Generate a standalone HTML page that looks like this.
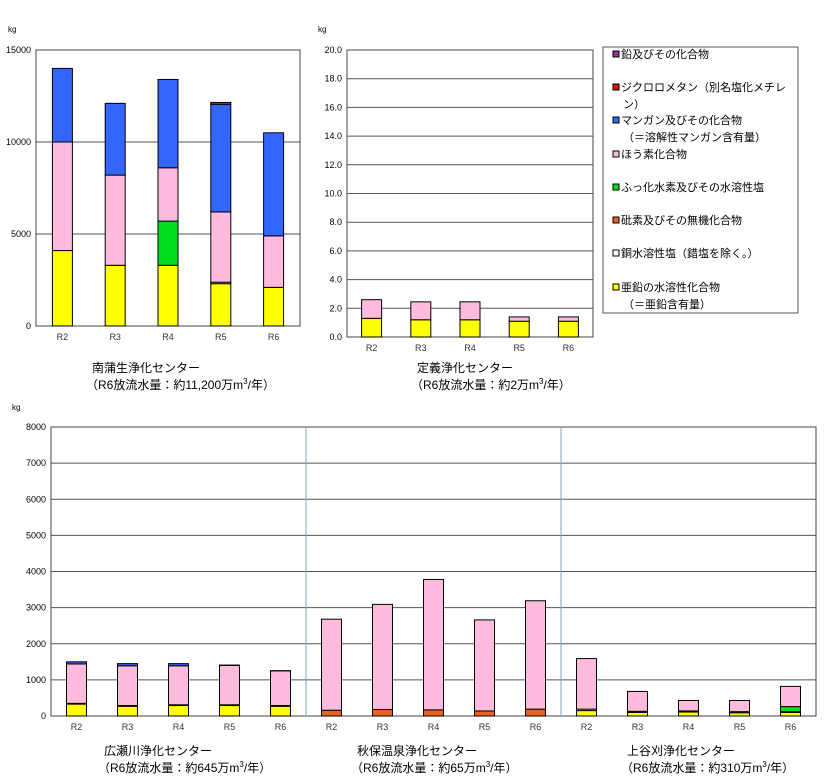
<!DOCTYPE html>
<html><head><meta charset="utf-8">
<style>
body{margin:0;background:#fff;width:830px;height:780px;overflow:hidden;font-family:"Liberation Sans","Noto Sans CJK JP",sans-serif;}
svg{position:absolute;left:0;top:0}
text{font-family:"Liberation Sans","Noto Sans CJK JP",sans-serif}
</style></head>
<body>
<svg id="chart" width="830" height="780" viewBox="0 0 830 780"></svg>
<script>
// series order (bottom to top)
const seriesNames=["亜鉛の水溶性化合物","銅水溶性塩","砒素及びその無機化合物","ふっ化水素及びその水溶性塩","ほう素化合物","マンガン及びその化合物","ジクロロメタン","鉛及びその化合物"];
const seriesColors=["#ffff00","#ffffff","#e8641e","#00e020","#ffbbdd","#3366ff","#dd1111","#993399"];
const years=["R2","R3","R4","R5","R6"];
// Minami-Gamo
const mg_zinc=[4100,3300,3300,2300,2100];
const mg_copper=[0,0,0,80,0];
const mg_arsenic=[0,0,0,0,0];
const mg_fluorine=[0,0,2400,0,0];
const mg_boron=[5900,4900,2900,3820,2800];
const mg_manganese=[4000,3900,4800,5850,5600];
const mg_dcm=[0,0,0,0,0];
const mg_lead=[0,0,0,100,0];
// Jogi
const jg_zinc=[1.3,1.2,1.2,1.1,1.1];
const jg_boron=[1.3,1.25,1.25,0.3,0.3];
// Hirosegawa
const hr_zinc=[330,270,290,290,270];
const hr_copper=[20,20,20,20,20];
const hr_boron=[1090,1100,1080,1090,960];
const hr_manganese=[60,60,60,10,5];
// Akiu Onsen
const ak_arsenic=[160,180,170,140,190];
const ak_boron=[2520,2910,3610,2520,3000];
// Kamiyagari
const ky_zinc=[150,100,110,90,100];
const ky_copper=[40,30,30,30,20];
const ky_fluorine=[0,0,0,0,140];
const ky_boron=[1400,550,290,310,560];
const ticks1=[0,5000,10000,15000];
const ticks2=[0,2,4,6,8,10,12,14,16,18,20];
const ticks3=[0,1000,2000,3000,4000,5000,6000,7000,8000];

const NS="http://www.w3.org/2000/svg";
const svg=document.getElementById('chart');
function mk(tag,attrs,parent){const e=document.createElementNS(NS,tag);for(const k in attrs)e.setAttribute(k,attrs[k]);(parent||svg).appendChild(e);return e;}
function txt(x,y,s,size,anchor,parent){const t=mk('text',{x:x,y:y,'font-size':size,'text-anchor':anchor||'start',fill:'#000'},parent);t.textContent=s;return t;}

function drawPlot(name,x0,x1,y0,y1,max,ticks,fmt,groups){
  const g=mk('g',{});
  
  
  const ys=v=>y1-(v/max)*(y1-y0);
  ticks.forEach(t=>{
    if(t>0&&t<max){const l=mk('line',{x1:x0,x2:x1,y1:ys(t),y2:ys(t),stroke:'#555','stroke-width':1},g);
      
      }
    const lb=txt(x0-5,ys(t)+3,fmt(t),9,'end',g);
    
    
  });
  const b=mk('rect',{x:x0,y:y0,width:x1-x0,height:y1-y0,fill:'none',stroke:'#444','stroke-width':1},g);
  
  
  const ncat=groups.reduce((a,gr)=>a+gr.length,0);
  const cw=(x1-x0)/ncat;
  let ci=0;
  groups.forEach((gr,gi)=>{
    if(gi>0){const d=mk('line',{x1:x0+ci*cw,x2:x0+ci*cw,y1:y0,y2:y1,stroke:'#7aa6bf','stroke-width':1},g);
      
      }
    gr.forEach(cat=>{
      const cx=x0+(ci+0.5)*cw;
      let acc=0;
      cat.vals.forEach((v,si)=>{
        if(!v)return;
        const r=mk('rect',{x:cx-10,y:ys(acc+v),width:20,height:ys(acc)-ys(acc+v),fill:seriesColors[si],stroke:'#000','stroke-width':1},g);
        
        
        acc+=v;
      });
      const l=txt(cx,y1+14,cat.label,9,'middle',g);
      l.setAttribute('fill','#333');
      
      
      ci++;
    });
  });
}
function cats(arrs){return years.map((y,i)=>({label:y,vals:arrs.map(a=>a?a[i]:0)}));}

drawPlot('minamigamo-chart',36,300,50,326,15000,ticks1,t=>String(t),
  [cats([mg_zinc,mg_copper,mg_arsenic,mg_fluorine,mg_boron,mg_manganese,mg_dcm,mg_lead])]);
drawPlot('jogi-chart',347,593,50,337,20,ticks2,t=>t.toFixed(1),
  [cats([jg_zinc,null,null,null,jg_boron])]);
drawPlot('bottom-chart',51,816,427,716,8000,ticks3,t=>String(t),
  [cats([hr_zinc,hr_copper,null,null,hr_boron,hr_manganese]),
   cats([null,null,ak_arsenic,null,ak_boron]),
   cats([ky_zinc,ky_copper,null,ky_fluorine,ky_boron])]);

// units
[[8,32],[318,32],[12,410]].forEach(p=>{const u=txt(p[0],p[1],'kg',8);});

// titles
function title(x,y,l1,vol){
  const t=txt(x,y,l1,12);
  const s=mk('text',{x:x-6,y:y+17,'font-size':12,fill:'#000'});
  
  
  s.innerHTML='（R6放流水量：約'+vol+'m<tspan font-size="8" dy="-5">3</tspan><tspan dy="5">/年）</tspan>';
}
title(92,372,'南蒲生浄化センター','11,200万');
title(417,372,'定義浄化センター','2万');
title(104,755,'広瀬川浄化センター','645万');
title(357,755,'秋保温泉浄化センター','65万');
title(627,755,'上谷刈浄化センター','310万');

// legend
const lg=mk('g',{});


mk('rect',{x:603,y:47,width:195,height:266,fill:'#fff',stroke:'#555'},lg);
const legendRows=[[7,58,['鉛及びその化合物']],[6,91,['ジクロロメタン（別名塩化メチレ','ン）']],[5,124,['マンガン及びその化合物','（＝溶解性マンガン含有量）']],[4,158,['ほう素化合物']],[3,191,['ふっ化水素及びその水溶性塩']],[2,224,['砒素及びその無機化合物']],[1,257,['銅水溶性塩（錯塩を除く。）']],[0,291,['亜鉛の水溶性化合物','（＝亜鉛含有量）']]];
legendRows.forEach(r=>{
  const e=mk('g',{},lg);
  
  
  mk('rect',{x:613,y:r[1]-7,width:6,height:6,fill:seriesColors[r[0]],stroke:'#000','stroke-width':1},e);
  r[2].forEach((s,i)=>txt(i===0?621:623,r[1]+i*17,s,11,'start',e));
});
</script>
</body></html>
